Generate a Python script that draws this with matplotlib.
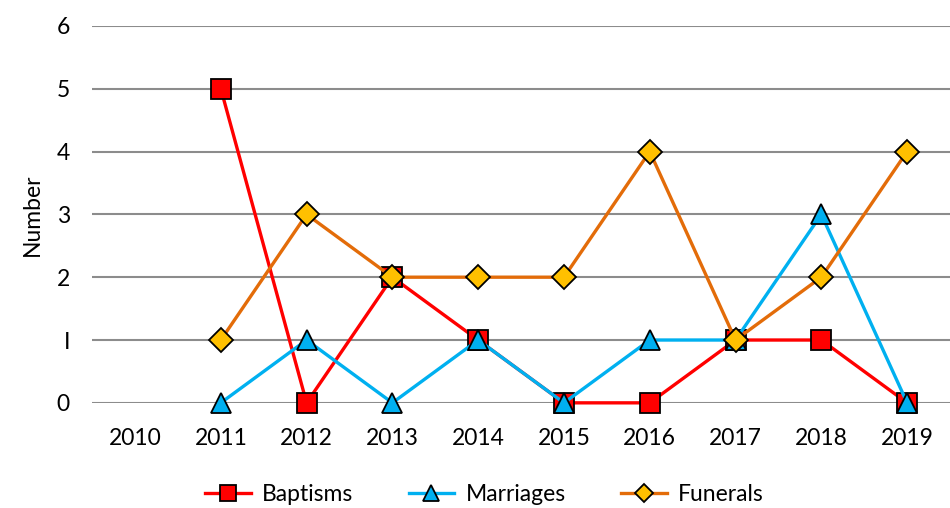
import numpy as np
import matplotlib
matplotlib.use('Agg')
from matplotlib import pyplot as plt

plt.rcParams['font.family'] = ['Lato', 'DejaVu Sans']

years = ['2010', '2011', '2012', '2013', '2014', '2015', '2016', '2017', '2018', '2019']
baptisms = [np.nan, 5, 0, 2, 1, 0, 0, 1, 1, 0]
marriages = [np.nan, 0, 1, 0, 1, 0, 1, 1, 3, 0]
funerals = [np.nan, 1, 3, 2, 2, 2, 4, 1, 2, 4]

x = np.arange(len(years))

fig = plt.figure(figsize=(9.5, 5.08), dpi=100)
ax = fig.add_axes([0.097, 0.207, 0.903, 0.742])

ax.plot(x, baptisms, color='#ff0000', lw=2.4, marker='s', ms=14,
        mfc='#ff0000', mec='black', mew=1.3, label='Baptisms', zorder=3)
ax.plot(x, marriages, color='#00b0f0', lw=2.4, marker='^', ms=15,
        mfc='#00b0f0', mec='black', mew=1.3, label='Marriages', zorder=4)
ax.plot(x, funerals, color='#e36c09', lw=2.4, marker='D', ms=12,
        mfc='#ffc000', mec='black', mew=1.3, label='Funerals', zorder=5)

ax.set_xlim(-0.5, len(years) - 0.5)
ax.set_ylim(0, 6)
ax.set_xticks(x)
ax.set_xticklabels(years)
ax.set_yticks(range(7))
ax.set_yticklabels(['0', 'I', '2', '3', '4', '5', '6'])
ax.tick_params(length=0, labelsize=16.5, pad=18)
ax.tick_params(axis='y', pad=16)
ax.grid(axis='y', color='#8c8c8c', lw=1.5)
ax.set_axisbelow(True)
for s in ax.spines.values():
    s.set_visible(False)
for ln in ax.lines:
    ln.set_clip_on(False)

ax.set_ylabel('Number', fontsize=16.5, labelpad=10)

fig.legend(loc='lower center', ncol=3, frameon=False, fontsize=16.5,
           bbox_to_anchor=(0.51, -0.035), handlelength=2.0, columnspacing=2.4,
           handletextpad=0.5, markerscale=0.8)

fig.savefig('out.png', dpi=100)
